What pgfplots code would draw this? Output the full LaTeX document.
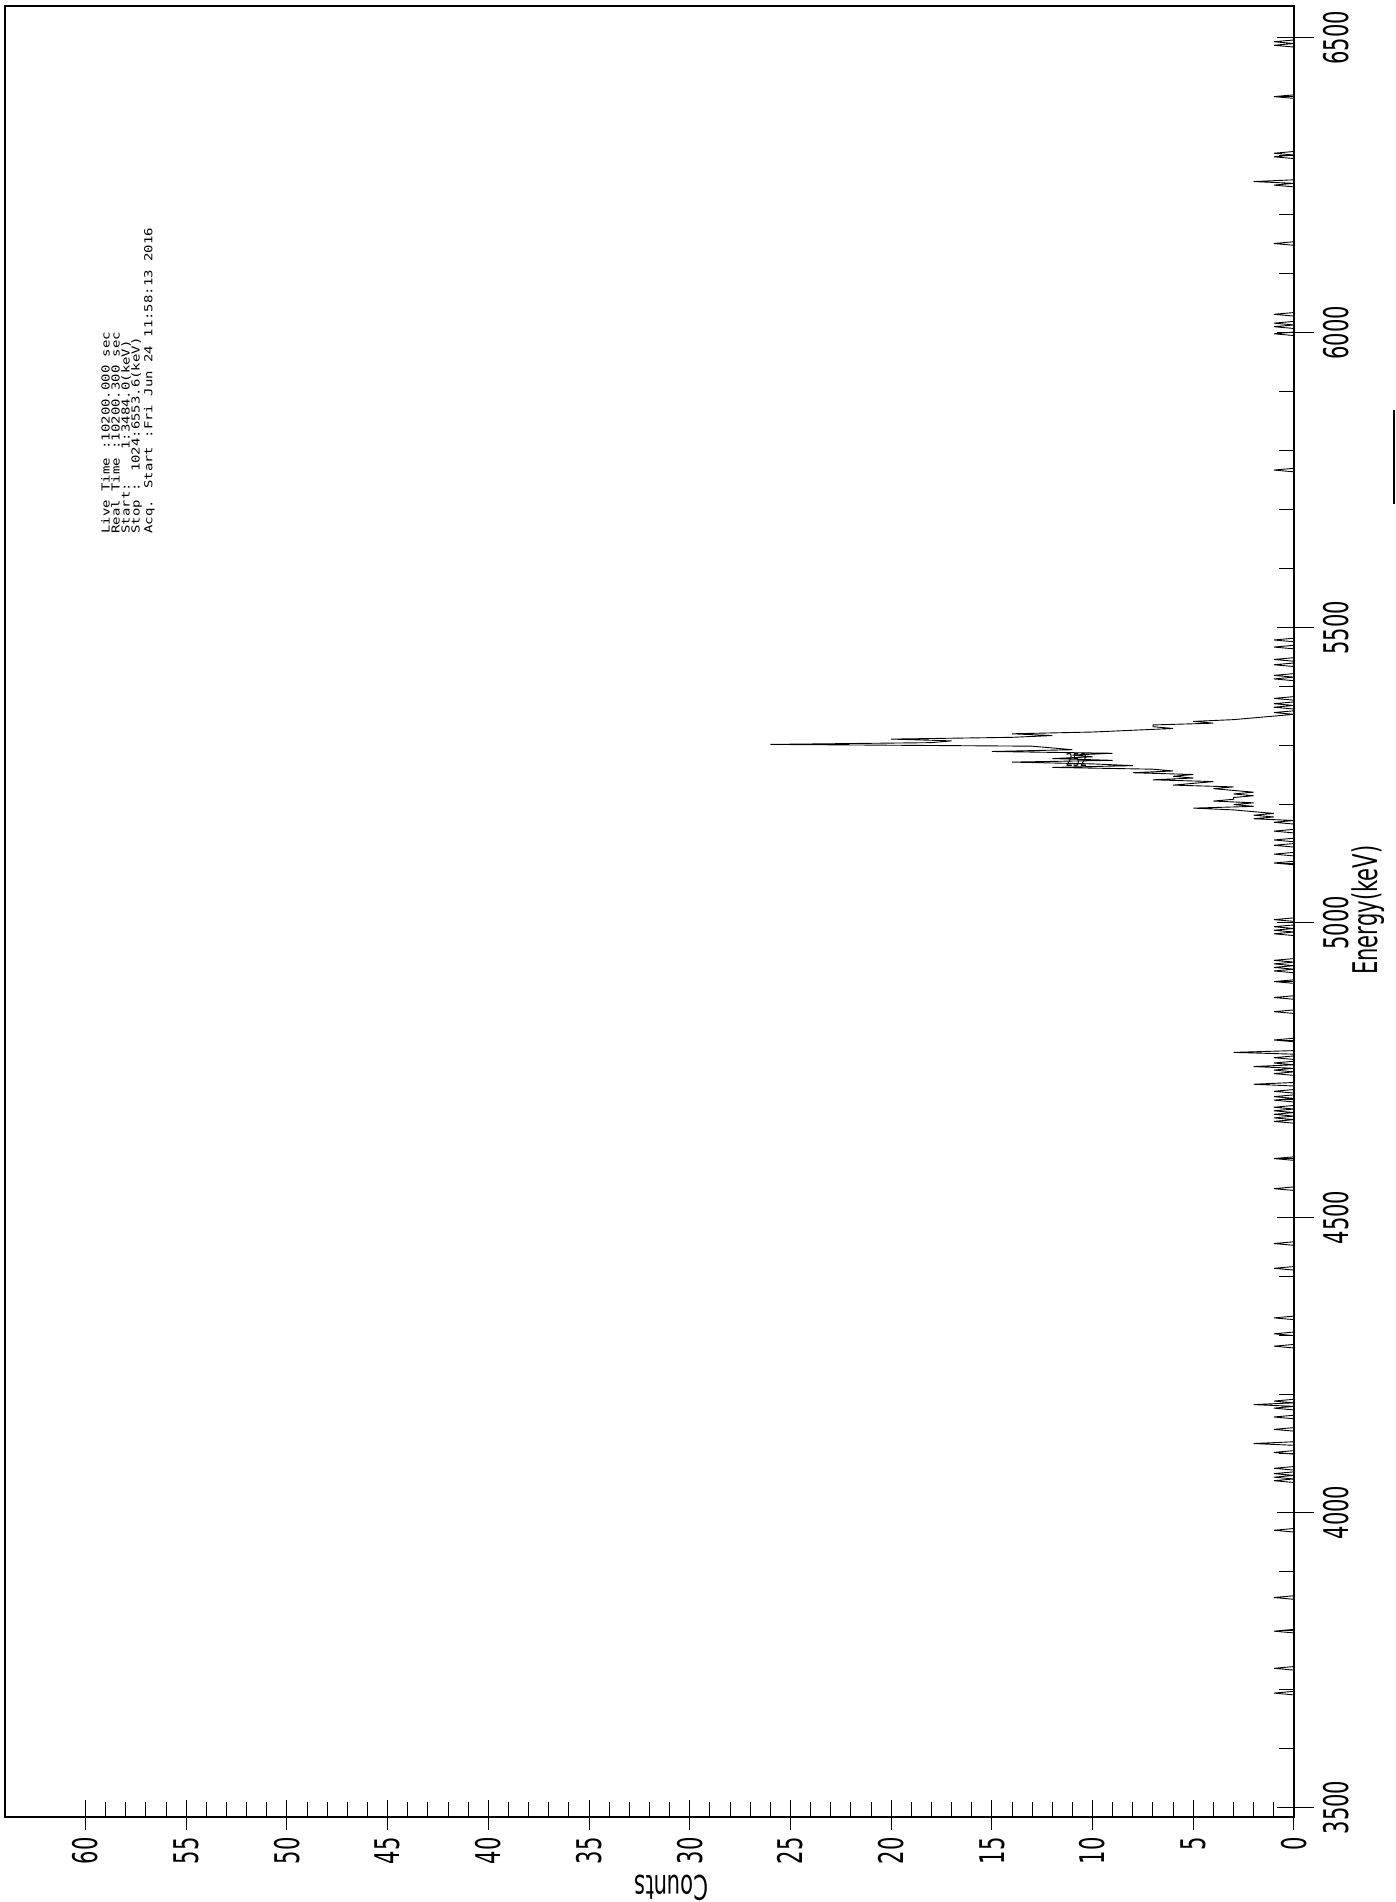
\documentclass[border=0pt]{standalone}
\usepackage{pgfplots}
\pgfplotsset{compat=1.18}
\usepackage{pgfplotstable}
\usepackage{fontspec}
\setmainfont{DejaVu Sans}
\newfontfamily\plotfont{DejaVu Sans}[FakeStretch=0.62]
\newfontfamily\infofont{DejaVu Sans Mono}[FakeStretch=1.27]

% energy (keV)  counts
\pgfplotstableread{
e c
3484 0
3691 0
3694 1
3697 0
3733 0
3736 1
3739 0
3796 0
3799 1
3802 0
3853 0
3856 1
3859 0
3967 0
3970 1
3973 0
4051 0
4054 1
4057 0
4060 1
4063 0
4066 1
4069 0
4072 0
4075 1
4078 0
4099 0
4102 1
4105 0
4114 0
4117 2
4120 0
4138 0
4141 1
4144 0
4159 0
4162 1
4165 0
4174 0
4177 1
4180 0
4183 2
4186 0
4189 1
4192 0
4279 0
4282 1
4285 0
4300 0
4303 1
4306 0
4327 0
4330 1
4333 0
4411 0
4414 1
4417 0
4453 0
4456 1
4459 0
4546 0
4549 1
4552 0
4597 0
4600 1
4603 0
4660 0
4663 1
4666 0
4669 1
4672 0
4675 1
4678 0
4681 1
4684 0
4687 1
4690 0
4696 0
4699 1
4702 0
4705 1
4708 0
4711 0
4714 1
4717 0
4723 0
4726 2
4729 0
4741 0
4744 1
4747 0
4750 1
4753 0
4756 2
4759 0
4762 1
4765 0
4768 0
4771 1
4774 0
4777 0
4780 3
4783 0
4798 0
4801 1
4804 0
4846 0
4849 1
4852 0
4870 0
4873 1
4876 0
4897 0
4900 1
4903 0
4915 0
4918 1
4921 0
4924 1
4927 0
4930 1
4933 0
4936 1
4939 0
4978 0
4981 1
4984 0
4987 1
4990 0
4993 1
4996 0
5002 0
5005 1
5008 0
5098 0
5101 1
5104 0
5113 0
5116 1
5119 0
5128 0
5131 1
5134 0
5137 0
5140 1
5143 0
5152 0
5155 1
5158 0
5167 0
5170 1
5173 0
5176 2
5179 1
5182 2
5185 1
5188 2
5191 3
5194 5
5197 2
5200 3
5203 2
5206 4
5209 3
5212 3
5215 2
5218 3
5221 2
5224 3
5227 4
5230 3
5233 6
5236 5
5239 4
5242 7
5245 5
5248 6
5251 5
5254 8
5257 6
5260 7
5263 12
5266 8
5269 10
5272 14
5275 9
5278 12
5281 10
5284 11
5287 9
5290 15
5293 11
5296 12
5299 13
5302 26
5305 18
5308 17
5311 20
5314 14
5317 12
5320 14
5323 10
5326 8
5329 6
5332 7
5335 7
5338 4
5341 5
5344 3
5347 2
5350 1
5353 0
5356 1
5359 0
5362 0
5365 1
5368 0
5371 1
5374 0
5377 0
5380 1
5383 0
5410 0
5413 1
5416 0
5419 1
5422 0
5434 0
5437 1
5440 0
5443 0
5446 1
5449 0
5464 0
5467 1
5470 0
5476 0
5479 1
5482 0
5764 0
5767 1
5770 0
5995 0
5998 1
6001 0
6007 0
6010 1
6013 0
6016 1
6019 0
6028 0
6031 1
6034 0
6148 0
6151 1
6154 0
6247 0
6250 1
6253 0
6256 2
6259 0
6295 0
6298 1
6301 0
6304 1
6307 0
6397 0
6400 1
6403 0
6484 0
6487 1
6490 0
6493 1
6496 0
6553 0
}\spectrum

\begin{document}
\begin{tikzpicture}
\begin{axis}[
  scale only axis, width=644.5pt, height=905.5pt,
  x dir=reverse, xmin=0, xmax=64, ymin=3484, ymax=6553.6,
  clip=false,
  axis line style={line width=0.7pt},
  xtick={0,5,...,60}, minor x tick num=4,
  ytick={3500,4000,...,6500}, minor y tick num=4,
  xtick pos=left, ytick pos=right, yticklabel pos=right,
  tick align=inside,
  major tick length=8.5pt, minor tick length=7.5pt,
  tick style={line width=0.5pt, black},
  ticklabel style={font=\fontsize{17}{20}\plotfont, inner sep=0pt},
  /pgf/number format/assume math mode=true,
  /pgf/number format/1000 sep={},
  scaled ticks=false,
  xticklabel style={rotate=90, anchor=east},
  xticklabel shift=10pt,
  yticklabel style={rotate=90, anchor=north},
  yticklabel shift=14.5pt,
  extra x ticks={0,5,...,60}, extra x tick labels={},
  extra x tick style={tick align=outside, major tick length=6.5pt},
  extra y ticks={3500,4000,...,6500}, extra y tick labels={},
  extra y tick style={tick align=outside, major tick length=10pt},
]
\addplot[black, line width=0.45pt] table[x=c, y=e] {\spectrum};
\draw[line width=1.3pt] (axis cs:0,3484) -- (axis cs:0,6553.6);
\draw[line width=1.3pt] (axis cs:64,3484) -- (axis cs:0,3484);
\coordinate (bl) at (axis cs:64,3484);
\coordinate (tr) at (axis cs:0,6553.6);
\node[rotate=90, anchor=north west, inner sep=0pt, align=left,
      font=\fontsize{5.5}{5}\infofont] at (axis cs:59.24,5658.6)
  {Live Time :10200.000 sec\\Real Time :10200.300 sec\\Start:\ \ \ \ 1:3484.0(keV)\\Stop : 1024:6553.6(keV)\\Acq. Start :Fri Jun 24 11:58:13 2016};
\node[inner sep=0pt, font=\fontsize{9}{10}\plotfont] at (axis cs:10.8,5275) {252};
\node[rotate=180, inner sep=0pt, font=\fontsize{17}{20}\plotfont] at ([yshift=-35.5pt]axis cs:30.9,3484) {Counts};
\node[rotate=90, inner sep=0pt, font=\fontsize{17}{20}\plotfont] at ([xshift=37pt]axis cs:0,5021) {Energy(keV)};
\draw[line width=1pt] ([xshift=50pt]axis cs:0,5709) -- ([xshift=50pt]axis cs:0,5869);
\end{axis}
\pgfresetboundingbox
\path ([shift={(-2.5pt,-42.5pt)}]bl) rectangle ([shift={(51pt,3pt)}]tr);
\end{tikzpicture}
\end{document}
